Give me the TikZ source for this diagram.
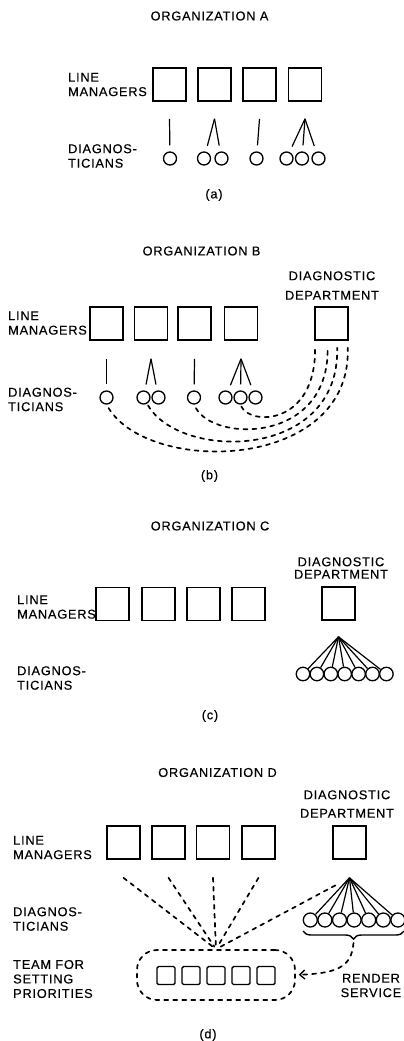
\documentclass[tikz,border=0pt]{standalone}
\usepackage{fontspec}
\setmainfont{Liberation Sans}[LetterSpace=6, FakeBold=0.3]
\usetikzlibrary{positioning, arrows.meta, decorations.pathreplacing}

\tikzset{
  mgr/.style={draw, line width=1.6pt, minimum size=33pt, inner sep=0pt},
  diag/.style={draw, circle, line width=1.3pt, minimum size=13pt, inner sep=0pt},
  member/.style={draw, line width=1.4pt, minimum size=18pt, inner sep=0pt, rounded corners=1.5pt},
  link/.style={line width=1.2pt},
  dashlink/.style={line width=1.7pt, line cap=round, dash pattern=on 4pt off 5pt},
  rowlabel/.style={anchor=west, align=left, inner sep=0pt},
  toplabel/.style={align=center, inner sep=0pt},
}

\begin{document}
\begin{tikzpicture}[x=1pt, y=1pt, font=\fontsize{12.8}{14.5}\selectfont]
  \useasboundingbox (0,0) rectangle (404,-1041);

  % ---------- Organization A: diagnosticians inside each line unit ----------
  \node[toplabel] (titleA) at (209.5,-16) {ORGANIZATION A};
  \node[rowlabel] (lmA) at (68,-84.5) {LINE\\MANAGERS};
  \node[rowlabel] (dgA) at (68,-156) {DIAGNOS-\\TICIANS};
  \foreach \i/\x in {1/169.5, 2/214.5, 3/259.5, 4/305}
    \node[mgr] (a\i) at (\x,-84.5) {};
  \foreach \i in {1,...,4}
    \coordinate[below=17pt of a\i] (a\i-top);
  \node[diag] (a1c)  at (170,-158.5) {};
  \node[diag] (a2c1) at (204,-158.5) {};
  \node[diag] (a2c2) at (221.5,-158.5) {};
  \node[diag] (a3c)  at (256.5,-158.5) {};
  \node[diag] (a4c1) at (286.5,-158.5) {};
  \node[diag] (a4c2) at (302,-158.5) {};
  \node[diag] (a4c3) at (318.5,-158.5) {};
  \foreach \s/\t in {a1-top/a1c, a2-top/a2c1, a2-top/a2c2, a3-top/a3c,
                     a4-top/a4c1, a4-top/a4c2, a4-top/a4c3}
    \draw[link, shorten >=6pt] (\s) -- (\t);
  \node (capA) at (214,-195) {(a)};

  % ---------- Organization B: diagnosticians also report to a department ----------
  \node[toplabel] (titleB) at (201.5,-251) {ORGANIZATION B};
  \node[toplabel] (deptB) at (332,-285.5) {DIAGNOSTIC\\[5pt]DEPARTMENT};
  \node[rowlabel] (lmB) at (8,-323) {LINE\\MANAGERS};
  \node[rowlabel] (dgB) at (8,-399.5) {DIAGNOS-\\TICIANS};
  \foreach \i/\x in {1/106.5, 2/151, 3/194.5, 4/241}
    \node[mgr] (b\i) at (\x,-323.5) {};
  \node[mgr] (bd) at (331.5,-323.5) {};
  \foreach \i in {1,...,4}
    \coordinate[below=18pt of b\i] (b\i-top);
  \node[diag] (b1c)  at (106.5,-397.5) {};
  \node[diag] (b2c1) at (143.5,-397.5) {};
  \node[diag] (b2c2) at (158.5,-397.5) {};
  \node[diag] (b3c)  at (194,-397.5) {};
  \node[diag] (b4c1) at (225.5,-397.5) {};
  \node[diag] (b4c2) at (240.5,-397.5) {};
  \node[diag] (b4c3) at (255.5,-397.5) {};
  \foreach \s/\t in {b1-top/b1c, b2-top/b2c1, b2-top/b2c2, b3-top/b3c,
                     b4-top/b4c1, b4-top/b4c2, b4-top/b4c3}
    \draw[link, shorten >=6pt] (\s) -- (\t);
  % dotted reporting lines swinging round to the department
  \draw[dashlink, shorten <=4pt, shorten >=7pt]
    (b1c.south) .. controls +(43.5,-71) and +(4.5,-130) .. ([xshift=16pt]bd.south);
  \draw[dashlink, shorten <=2pt, shorten >=7pt]
    (b2c1.-60) .. controls +(33,-57) and +(3,-120) .. ([xshift=5.5pt]bd.south);
  \draw[dashlink, shorten <=4pt, shorten >=7pt]
    (b3c.south) .. controls +(21,-38) and +(2,-102) .. ([xshift=-4pt]bd.south);
  \draw[dashlink, shorten <=2pt, shorten >=7pt]
    (b4c2.south) .. controls +(9.5,-21) and +(1,-85) .. ([xshift=-16.5pt]bd.south);
  \node (capB) at (209.5,-476) {(b)};

  % ---------- Organization C: all diagnosticians in the department ----------
  \node[toplabel] (titleC) at (210,-526) {ORGANIZATION C};
  \node[toplabel] (deptC) at (341,-568) {DIAGNOSTIC\\[-2pt]DEPARTMENT};
  \node[rowlabel] (lmC) at (17,-607) {LINE\\MANAGERS};
  \node[rowlabel] (dgC) at (17,-678) {DIAGNOS-\\TICIANS};
  \foreach \i/\x in {1/112.5, 2/158.5, 3/203.5, 4/248.5}
    \node[mgr] (c\i) at (\x,-604) {};
  \node[mgr] (cd) at (338.5,-603.5) {};
  \coordinate[below=16pt of cd] (c-apex);
  \foreach \k in {1,...,7} {
    \node[diag, minimum size=13.5pt] (cc\k) at ({303+13.9*(\k-1)},-674) {};
    \draw[link] (c-apex) -- (cc\k);
  }
  \node (capC) at (210,-716) {(c)};

  % ---------- Organization D: priorities set by a joint team ----------
  \node[toplabel] (titleD) at (217.5,-772.5) {ORGANIZATION D};
  \node[toplabel] (deptD) at (347,-804) {DIAGNOSTIC\\[4pt]DEPARTMENT};
  \node[rowlabel] (lmD) at (13,-847.5) {LINE\\MANAGERS};
  \node[rowlabel] (dgD) at (13,-919) {DIAGNOS-\\TICIANS};
  \node[rowlabel] (tmD) at (13,-979) {TEAM FOR\\SETTING\\PRIORITIES};
  \node[toplabel] (rsD) at (371,-985.5) {RENDER\\SERVICE};
  \foreach \i/\x in {1/123.5, 2/168.5, 3/213, 4/258.5}
    \node[mgr] (d\i) at (\x,-842.5) {};
  \node[mgr] (dd) at (349.5,-842.5) {};
  \foreach \i in {1,...,4}
    \coordinate[below=18pt of d\i] (d\i-top);
  \coordinate[below=18pt of dd] (d-apex);
  \foreach \k in {1,...,7} {
    \node[diag, minimum size=14pt] (dc\k) at ({310.3+14.6*(\k-1)},-920) {};
    \draw[link] (d-apex) -- (dc\k);
  }
  % priority team
  \node[draw, dashlink, rounded corners=20pt, minimum width=158pt, minimum height=50pt] (team) at (216,-975) {};
  \foreach \k/\x in {1/166, 2/191, 3/216, 4/241, 5/266}
    \node[member] (m\k) at (\x,-975.5) {};
  \foreach \i in {1,...,4}
    \draw[dashlink, shorten >=3pt] (d\i-top) -- (team.north);
  \draw[dashlink, shorten <=16pt, shorten >=3pt] (d-apex) -- (team.north);
  % brace over the diagnosticians and the service arrow
  \coordinate (brL) at (303,-931);
  \coordinate (brR) at (404,-931);
  \coordinate (brtip) at (353.5,-943);
  \draw[line width=1.4pt, decorate, decoration={brace, mirror, amplitude=8pt}] (brL) -- (brR);
  \draw[dashlink, -{Straight Barb[length=5pt, width=9pt, line width=1.3pt]}, shorten >=3pt]
    (brtip) .. controls +(-2,-25) and +(40,2) .. (team.east);
  \node (capD) at (208,-1035) {(d)};
\end{tikzpicture}
\end{document}
